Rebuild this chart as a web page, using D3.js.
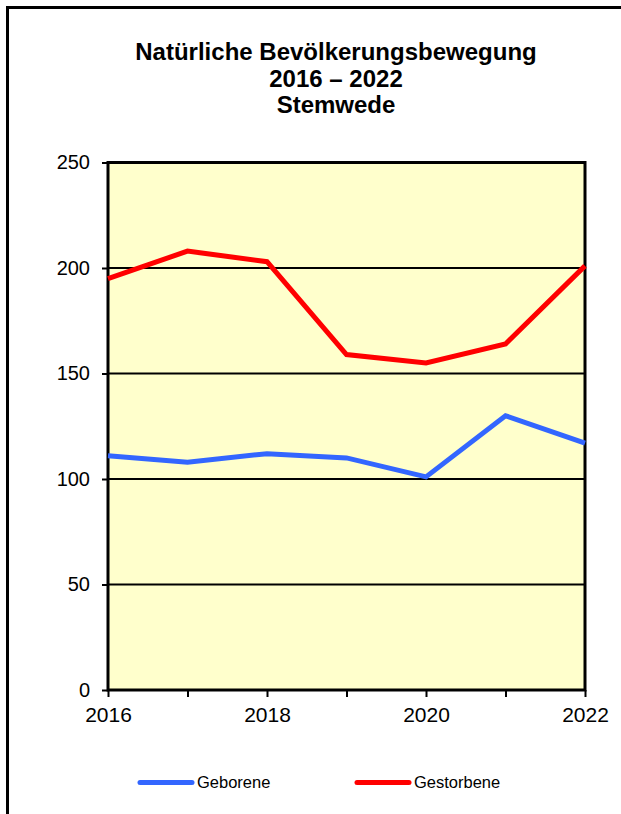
<!DOCTYPE html>
<html>
<head>
<meta charset="utf-8">
<script src="https://cdn.jsdelivr.net/npm/d3@7"></script>
<style>
  body { margin: 0; background: #fff; }
  svg { display: block; font-family: "Liberation Sans", Arial, sans-serif; }
</style>
</head>
<body>
<div id="chart"></div>
<script>
// data
const years = [2016, 2017, 2018, 2019, 2020, 2021, 2022];
const geborene = [111, 108, 112, 110, 101, 130, 117];
const gestorbene = [195, 208, 203, 159, 155, 164, 201];
const yTicks = [0, 50, 100, 150, 200, 250];
const xLabels = [2016, 2018, 2020, 2022];
const titleLines = ["Natürliche Bevölkerungsbewegung", "2016 – 2022", "Stemwede"];

const width = 621, height = 814;
const svg = d3.select("#chart").append("svg")
    .attr("width", width)
    .attr("height", height);

// outer frame (runs off the right and bottom edge)
svg.append("rect")
    .attr("x", 7.5).attr("y", 7.5)
    .attr("width", 700).attr("height", 900)
    .attr("fill", "none")
    .attr("stroke", "#000")
    .attr("stroke-width", 3);

const plotLeft = 108, plotRight = 585, plotTop = 162.5, plotBottom = 690;

const x = d3.scaleLinear().domain([2016, 2022]).range([plotLeft, plotRight]);
const y = d3.scaleLinear().domain([0, 250]).range([plotBottom, plotTop]);

// title
svg.append("text")
    .attr("x", 336)
    .attr("y", 60)
    .attr("text-anchor", "middle")
    .style("font-weight", "bold")
    .style("font-size", "24px")
    .selectAll("tspan")
    .data(titleLines)
    .enter()
    .append("tspan")
    .attr("x", 336)
    .attr("dy", (d, i) => i === 0 ? 0 : 26.5)
    .text(d => d);

// plot background
svg.append("rect")
    .attr("x", plotLeft).attr("y", plotTop)
    .attr("width", plotRight - plotLeft).attr("height", plotBottom - plotTop)
    .attr("fill", "#ffffcc");

// gridlines
svg.append("g")
    .selectAll("line")
    .data(yTicks.slice(1, -1))
    .enter()
    .append("line")
    .attr("x1", plotLeft).attr("x2", plotRight)
    .attr("y1", d => y(d)).attr("y2", d => y(d))
    .attr("stroke", "#000")
    .attr("stroke-width", 2);

// plot border
svg.append("rect")
    .attr("x", plotLeft).attr("y", plotTop)
    .attr("width", plotRight - plotLeft).attr("height", plotBottom - plotTop)
    .attr("fill", "none")
    .attr("stroke", "#000")
    .attr("stroke-width", 3);

// y axis
const yAxis = svg.append("g")
    .attr("transform", `translate(${plotLeft},0)`)
    .call(d3.axisLeft(y).tickValues(yTicks).tickSize(6).tickPadding(12));
yAxis.select(".domain").remove();
yAxis.selectAll("line").attr("stroke", "#000").attr("stroke-width", 2);
yAxis.selectAll("text")
    .style("font-size", "20px")
    .attr("fill", "#000")
    .attr("font-family", "Liberation Sans, Arial, sans-serif");

// x axis
const xAxis = svg.append("g")
    .attr("transform", `translate(0,${plotBottom})`)
    .call(d3.axisBottom(x).tickValues(years).tickSize(7).tickPadding(10)
        .tickFormat(d => xLabels.includes(d) ? d : ""));
xAxis.select(".domain").remove();
xAxis.selectAll("line").attr("stroke", "#000").attr("stroke-width", 2);
xAxis.selectAll("text")
    .style("font-size", "21px")
    .attr("fill", "#000")
    .attr("font-family", "Liberation Sans, Arial, sans-serif");

// lines
const line = d3.line()
    .x((d, i) => x(years[i]))
    .y(d => y(d));

svg.append("path")
    .datum(geborene)
    .attr("d", line)
    .attr("fill", "none")
    .attr("stroke", "#3366ff")
    .attr("stroke-width", 5);

svg.append("path")
    .datum(gestorbene)
    .attr("d", line)
    .attr("fill", "none")
    .attr("stroke", "#ff0000")
    .attr("stroke-width", 5);

// legend
const legend = [
    { name: "Geborene", color: "#3366ff", x: 140 },
    { name: "Gestorbene", color: "#ff0000", x: 357 }
];
const lg = svg.append("g");
lg.selectAll("line")
    .data(legend)
    .enter()
    .append("line")
    .attr("x1", d => d.x).attr("x2", d => d.x + 52)
    .attr("y1", 782.5).attr("y2", 782.5)
    .attr("stroke", d => d.color)
    .attr("stroke-width", 5)
    .attr("stroke-linecap", "round");
lg.selectAll("text")
    .data(legend)
    .enter()
    .append("text")
    .attr("x", d => d.x + 57)
    .attr("y", 788)
    .style("font-size", "16.5px")
    .text(d => d.name);
</script>
</body>
</html>
